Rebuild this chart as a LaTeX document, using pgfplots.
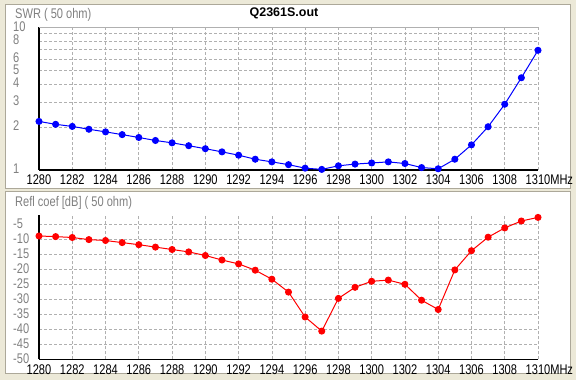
\documentclass[border=0pt]{standalone}
\usepackage{fontspec}
\setmainfont[FakeStretch=0.79]{Liberation Sans}
\newfontfamily\titlefont{Liberation Sans}
\usepackage{pgfplots}
\pgfplotsset{compat=1.18}
\definecolor{winbg}{HTML}{ECE9D8}
\definecolor{gridc}{HTML}{B0B0B0}
\definecolor{labgray}{HTML}{808080}
\definecolor{framec}{HTML}{ACA899}
\newcommand\fs{\fontsize{14}{16}\selectfont}
\begin{document}
\begin{tikzpicture}[x=1pt,y=1pt]
\useasboundingbox (0,0) rectangle (576,380);
\fill[winbg] (0,0) rectangle (576,380);
\filldraw[fill=white,draw=framec,line width=1pt] (5,191) rectangle (570,375);
\filldraw[fill=white,draw=framec,line width=1pt] (5,6) rectangle (570,188);
\pgfplotsset{myaxis/.style={
  scale only axis, width=499pt,
  xmin=1280, xmax=1310,
  xtick={1280,1282,1284,1286,1288,1290,1292,1294,1296,1298,1300,1302,1304,1306,1308,1310},
  xticklabels={1280,1282,1284,1286,1288,1290,1292,1294,1296,1298,1300,1302,1304,1306,1308,1310\rlap{MHz}},
  axis x line=bottom, axis y line=left,
  axis line style={black,line width=1.4pt,-},
  grid=major,
  major grid style={gridc, dash pattern=on 3pt off 2pt, line width=0.7pt},
  major tick length=0pt,
  clip=false,
  xticklabel style={black,font=\fs,inner sep=0pt,yshift=-5pt},
  yticklabel style={labgray,font=\fs,anchor=west,inner sep=0pt,xshift=-26pt,yshift=1pt},
}}
\begin{axis}[myaxis, at={(39pt,210pt)}, anchor=south west, height=142.7pt,
  ymode=log, ymin=1, ymax=10,
  ytick={1,2,3,4,5,6,7,8,9,10},
  yticklabels={1,2,3,4,5,6,,8,,10}]
\draw[gridc,line width=0.8pt] (rel axis cs:0,1) -- (rel axis cs:1,1);
\addplot[blue, line width=1pt, mark=*, mark size=3pt, mark options={fill=blue}] coordinates {
(1280,2.19)(1281,2.09)(1282,2.02)(1283,1.93)(1284,1.85)(1285,1.77)(1286,1.69)(1287,1.61)
(1288,1.55)(1289,1.48)(1290,1.41)(1291,1.34)(1292,1.27)(1293,1.19)(1294,1.14)(1295,1.09)
(1296,1.03)(1297,1.01)(1298,1.07)(1299,1.10)(1300,1.12)(1301,1.14)(1302,1.11)(1303,1.04)
(1304,1.02)(1305,1.19)(1306,1.50)(1307,2.01)(1308,2.89)(1309,4.43)(1310,6.90)};
\end{axis}
\begin{axis}[myaxis, at={(39pt,20.7pt)}, anchor=south west, height=144pt,
  ymin=-50, ymax=-2,
  ytick={-50,-45,-40,-35,-30,-25,-20,-15,-10,-5},
  yticklabels={-50,-45,-40,-35,-30,-25,-20,-15,-10,-5}]
\addplot[red, line width=1pt, mark=*, mark size=3pt, mark options={fill=red}] coordinates {
(1280,-8.9)(1281,-9.1)(1282,-9.4)(1283,-10.1)(1284,-10.4)(1285,-11.1)(1286,-11.8)(1287,-12.6)
(1288,-13.4)(1289,-14.2)(1290,-15.4)(1291,-16.9)(1292,-18.2)(1293,-20.3)(1294,-23.3)(1295,-27.6)
(1296,-35.9)(1297,-40.6)(1298,-29.7)(1299,-26.0)(1300,-24.0)(1301,-23.6)(1302,-25.0)(1303,-30.3)
(1304,-33.4)(1305,-20.2)(1306,-13.8)(1307,-9.3)(1308,-6.2)(1309,-3.9)(1310,-2.7)};
\end{axis}
\node[anchor=center,inner sep=0pt,font=\titlefont\bfseries\fontsize{12.5}{14}\selectfont] at (284,367) {Q2361S.out};
\node[anchor=west,inner sep=0pt,text=labgray,font=\fs] at (15,365) {SWR ( 50 ohm)};
\node[anchor=west,inner sep=0pt,text=labgray,font=\fs] at (15,177) {Refl coef [dB] ( 50 ohm)};
\end{tikzpicture}
\end{document}
